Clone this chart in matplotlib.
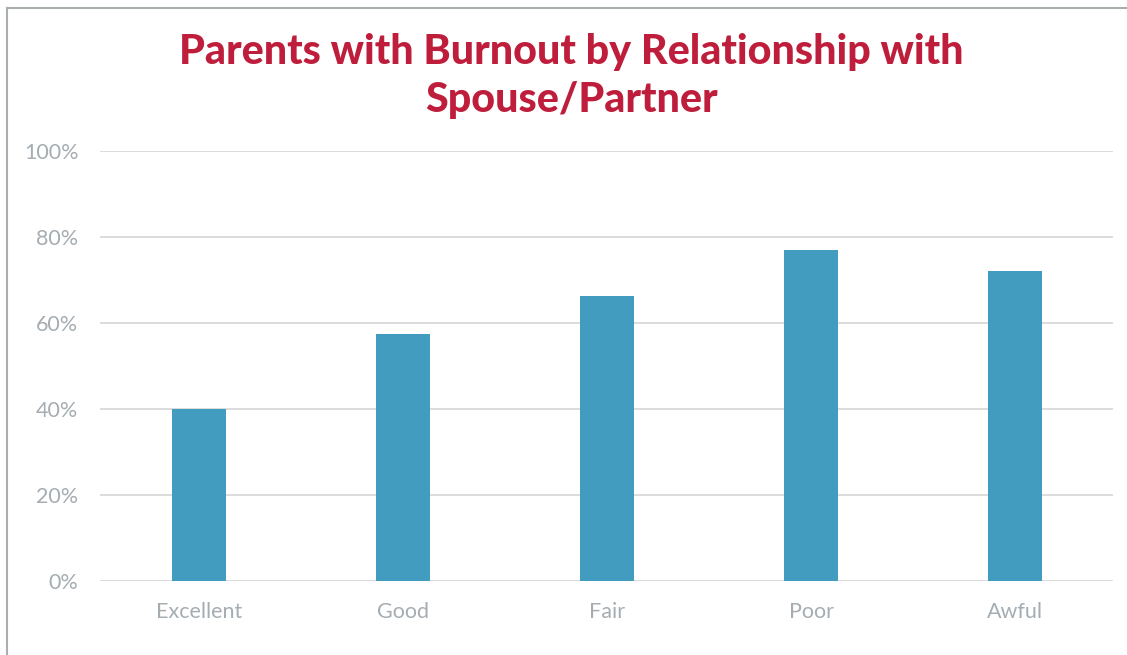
import matplotlib
matplotlib.use('Agg')
import matplotlib.pyplot as plt
from matplotlib.lines import Line2D
from matplotlib.ticker import PercentFormatter

categories = ['Excellent', 'Good', 'Fair', 'Poor', 'Awful']
burnout = [0.40, 0.575, 0.663, 0.770, 0.721]
yticks = [0, 0.2, 0.4, 0.6, 0.8, 1.0]

bar_color = '#429cbf'
title_color = '#be1e3c'
tick_color = '#a5adb2'
grid_color = '#d9d9d9'

plt.rcParams['font.family'] = ['Lato', 'DejaVu Sans']

fig = plt.figure(figsize=(11.27, 6.55), dpi=100)
ax = fig.add_axes([100 / 1127, 1 - 581 / 655, 1013 / 1127, 430 / 655])

x = range(len(categories))
ax.bar(x, burnout, width=0.265, color=bar_color, zorder=3)

ax.set_ylim(0, 1)
ax.set_xlim(-0.485, 4.48)
ax.set_yticks(yticks)
ax.yaxis.set_major_formatter(PercentFormatter(1.0, decimals=0))
ax.set_xticks(list(x))
ax.set_xticklabels(categories)
ax.grid(axis='y', color=grid_color, linewidth=1.3, zorder=0)
for s in ax.spines.values():
    s.set_visible(False)
ax.tick_params(axis='both', length=0, colors=tick_color, labelsize=15.5)
ax.tick_params(axis='y', pad=15.5)
ax.tick_params(axis='x', pad=15)

fig.text(571 / 1127, 1 - 76 / 655,
         'Parents with Burnout by Relationship with\nSpouse/Partner',
         ha='center', va='center', fontsize=29.7, fontweight='black',
         color=title_color, linespacing=1.33)

# chart frame (left and top edges only visible)
fig.add_artist(Line2D([7 / 1127, 7 / 1127], [0, 1 - 8 / 655],
                      transform=fig.transFigure, color='#a9aeb1', linewidth=1.5))
fig.add_artist(Line2D([7 / 1127, 1], [1 - 8 / 655, 1 - 8 / 655],
                      transform=fig.transFigure, color='#a9aeb1', linewidth=1.5))

fig.savefig('out.png', dpi=100)
